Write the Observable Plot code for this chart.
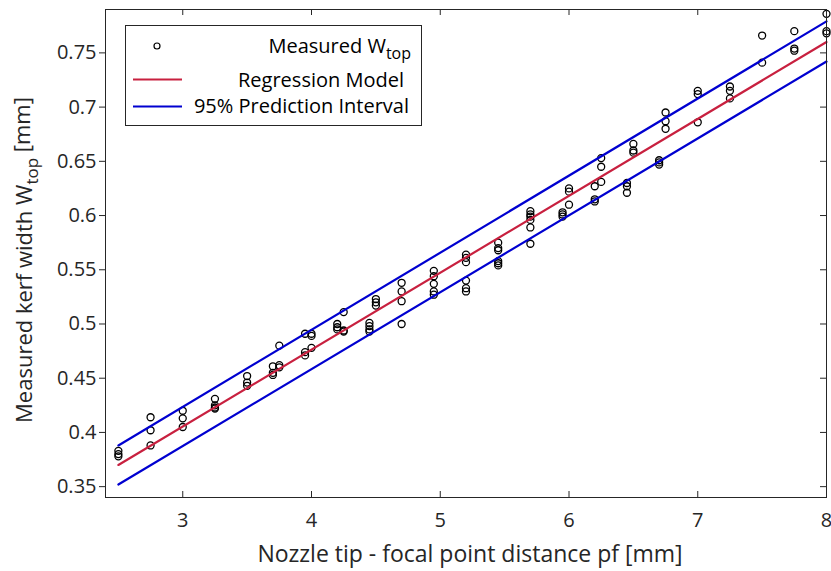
<!DOCTYPE html>
<html>
<head>
<meta charset="utf-8">
<script src="https://cdn.jsdelivr.net/npm/d3@7"></script>
<script src="https://cdn.jsdelivr.net/npm/@observablehq/plot@0.6"></script>
<style>
  html, body { margin: 0; padding: 0; background: white; }
</style>
</head>
<body>
<div id="chart"></div>
<script>
// Focal point distance levels (mm)
const pfLevels = [2.5, 2.75, 3, 3.25, 3.5, 3.7, 3.75, 3.95, 4, 4.2, 4.25, 4.45, 4.5, 4.7, 4.95,
  5.2, 5.45, 5.7, 5.95, 6, 6.2, 6.25, 6.45, 6.5, 6.7, 6.75, 7, 7.25, 7.5, 7.75, 8];
// Measured W_top (mm) at each level
const measuredWtop = [
  [0.383, 0.380, 0.378],
  [0.414, 0.402, 0.388],
  [0.420, 0.413, 0.405],
  [0.431, 0.425, 0.423, 0.422],
  [0.452, 0.446, 0.443],
  [0.461, 0.455, 0.453],
  [0.480, 0.462, 0.460],
  [0.491, 0.474, 0.471],
  [0.491, 0.489, 0.478],
  [0.500, 0.497, 0.495],
  [0.511, 0.494, 0.493],
  [0.501, 0.498, 0.495, 0.493],
  [0.523, 0.520, 0.517],
  [0.538, 0.530, 0.521, 0.500],
  [0.549, 0.544, 0.537, 0.530, 0.527],
  [0.564, 0.561, 0.557, 0.540, 0.533, 0.530],
  [0.575, 0.570, 0.568, 0.558, 0.556, 0.554],
  [0.604, 0.601, 0.599, 0.596, 0.589, 0.574],
  [0.603, 0.601, 0.599],
  [0.625, 0.622, 0.610],
  [0.627, 0.615, 0.613],
  [0.653, 0.645, 0.631],
  [0.630, 0.627, 0.621],
  [0.666, 0.660, 0.658],
  [0.651, 0.649, 0.647],
  [0.695, 0.687, 0.680],
  [0.715, 0.712, 0.686],
  [0.719, 0.715, 0.708],
  [0.766, 0.741],
  [0.770, 0.754, 0.752],
  [0.786, 0.770, 0.768]
];
// Regression model and 95% prediction interval
const lineX = [2.5, 8];
const fitY = [0.370, 0.760];
const upperY = [0.388, 0.779];
const lowerY = [0.352, 0.742];

const xTicks = [3, 4, 5, 6, 7, 8];
const yTicks = [0.35, 0.4, 0.45, 0.5, 0.55, 0.6, 0.65, 0.7, 0.75];

const points = pfLevels.flatMap((pf, i) => measuredWtop[i].map(w => ({pf, w})));
const mk = ys => lineX.map((x, i) => ({x, y: ys[i]}));

const W = 831, H = 571, mL = 105, mR = 5, mT = 9, mB = 74;
const innerW = W - mL - mR, innerH = H - mT - mB;
const axisColor = "#262626";
const red = "#C8203F", blue = "#0000D0";
const ff = "'Open Sans', 'Noto Sans', sans-serif";

const svg = Plot.plot({
  width: W, height: H,
  marginLeft: mL, marginRight: mR, marginTop: mT, marginBottom: mB,
  style: {fontFamily: ff, fontSize: "20px", color: axisColor, background: "white"},
  x: {domain: [2.4, 8]},
  y: {domain: [0.34, 0.79]},
  marks: [
    Plot.dot(points, {x: "pf", y: "w", r: 3.5, stroke: "black", strokeWidth: 1.3, fill: "none"}),
    Plot.line(mk(fitY), {x: "x", y: "y", stroke: red, strokeWidth: 2.2}),
    Plot.line(mk(upperY), {x: "x", y: "y", stroke: blue, strokeWidth: 2.2}),
    Plot.line(mk(lowerY), {x: "x", y: "y", stroke: blue, strokeWidth: 2.2}),
    Plot.ruleX(xTicks, {stroke: axisColor, insetTop: innerH - 6}),
    Plot.ruleX(xTicks, {stroke: axisColor, insetBottom: innerH - 6}),
    Plot.ruleY(yTicks, {stroke: axisColor, insetLeft: innerW - 6}),
    Plot.frame({stroke: axisColor, strokeWidth: 1}),
    Plot.axisX({ticks: xTicks, tickSize: 0, tickPadding: 15, label: null, fontSize: 20,
      tickFormat: d => String(d)}),
    Plot.axisY({ticks: yTicks, tickSize: 6, tickPadding: 3, label: null, fontSize: 20,
      tickFormat: d => String(+d.toFixed(2))})
  ]
});

const s = d3.select(svg);

// axis titles
s.append("text")
  .attr("x", 470).attr("y", 562)
  .attr("text-anchor", "middle").attr("font-family", ff).attr("font-size", 23)
  .attr("fill", axisColor)
  .text("Nozzle tip - focal point distance pf [mm]");

const yl = s.append("text")
  .attr("transform", "translate(32,260) rotate(-90)")
  .attr("text-anchor", "middle").attr("font-family", ff).attr("font-size", 22)
  .attr("fill", axisColor);
yl.append("tspan").text("Measured kerf width W");
yl.append("tspan").attr("dy", "0.35em").attr("font-size", 17).text("top");
yl.append("tspan").attr("dy", "-0.35em").text(" [mm]");

// legend
const lg = s.append("g").attr("font-family", ff).attr("font-size", 20).attr("fill", "black");
lg.append("rect").attr("x", 125.5).attr("y", 25.5).attr("width", 296).attr("height", 100)
  .attr("fill", "white").attr("stroke", axisColor).attr("stroke-width", 1);
lg.append("circle").attr("cx", 157).attr("cy", 46).attr("r", 3).attr("fill", "none")
  .attr("stroke", "black").attr("stroke-width", 1.2);
const t1 = lg.append("text").attr("x", 411).attr("y", 53).attr("text-anchor", "end");
t1.append("tspan").text("Measured W");
t1.append("tspan").attr("dy", "0.35em").attr("font-size", 16).text("top");
lg.append("line").attr("x1", 133).attr("x2", 182).attr("y1", 79.5).attr("y2", 79.5)
  .attr("stroke", red).attr("stroke-width", 2);
lg.append("text").attr("x", 404).attr("y", 87).attr("text-anchor", "end").text("Regression Model");
lg.append("line").attr("x1", 133).attr("x2", 182).attr("y1", 106.5).attr("y2", 106.5)
  .attr("stroke", blue).attr("stroke-width", 2);
lg.append("text").attr("x", 409).attr("y", 113).attr("text-anchor", "end").text("95% Prediction Interval");

document.getElementById("chart").appendChild(svg);
</script>
</body>
</html>
